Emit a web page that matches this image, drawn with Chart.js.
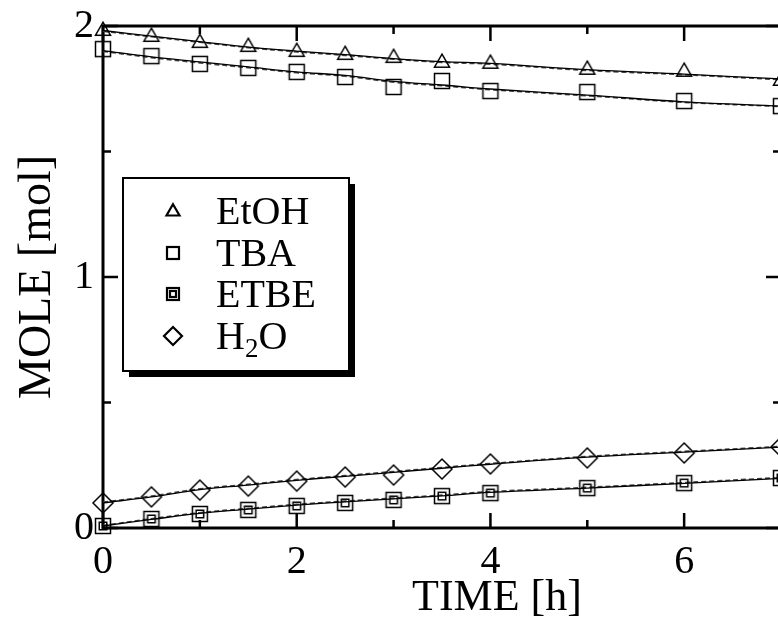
<!DOCTYPE html>
<html>
<head>
<meta charset="utf-8">
<script src="https://cdn.jsdelivr.net/npm/chart.js@4.4.1/dist/chart.umd.min.js"></script>
<style>
  html, body { margin: 0; padding: 0; overflow: hidden; background: #fff; }
  #wrap { width: 810px; height: 622px; }
</style>
</head>
<body>
<div id="wrap"><canvas id="chart" width="810" height="622"></canvas></div>
<script>
/* Moles vs time for the ETBE synthesis run, measured points + two model curves. */

const TIME = [0, 0.5, 1, 1.5, 2, 2.5, 3, 3.5, 4, 5, 6, 7];

// measured points
const ETOH = [1.984, 1.960, 1.936, 1.920, 1.900, 1.888, 1.876, 1.857, 1.853, 1.829, 1.821, 1.785];
const TBA  = [1.908, 1.880, 1.849, 1.833, 1.817, 1.797, 1.757, 1.781, 1.741, 1.737, 1.701, 1.681];
const ETBE = [0.008, 0.036, 0.056, 0.072, 0.088, 0.100, 0.112, 0.127, 0.139, 0.159, 0.179, 0.199];
const H2O  = [0.100, 0.124, 0.151, 0.167, 0.187, 0.203, 0.211, 0.235, 0.255, 0.279, 0.299, 0.323];

// model curves (solid / dashed), read at the same times
const ETOH_SOLID = [1.982, 1.960, 1.938, 1.916, 1.900, 1.886, 1.870, 1.858, 1.851, 1.826, 1.808, 1.789];
const ETOH_DASH  = [1.979, 1.957, 1.935, 1.914, 1.897, 1.883, 1.868, 1.855, 1.848, 1.823, 1.806, 1.786];
const TBA_SOLID  = [1.902, 1.877, 1.857, 1.837, 1.817, 1.803, 1.779, 1.765, 1.749, 1.725, 1.698, 1.681];
const TBA_DASH   = [1.899, 1.874, 1.853, 1.834, 1.814, 1.800, 1.776, 1.762, 1.746, 1.722, 1.696, 1.679];
const ETBE_SOLID = [0.008, 0.034, 0.058, 0.075, 0.091, 0.104, 0.116, 0.128, 0.142, 0.159, 0.178, 0.198];
const ETBE_DASH  = [0.010, 0.037, 0.061, 0.078, 0.094, 0.107, 0.119, 0.131, 0.145, 0.162, 0.181, 0.201];
const H2O_SOLID  = [0.100, 0.124, 0.153, 0.171, 0.190, 0.206, 0.222, 0.238, 0.254, 0.282, 0.302, 0.322];
const H2O_DASH   = [0.103, 0.127, 0.156, 0.174, 0.193, 0.209, 0.225, 0.241, 0.257, 0.285, 0.305, 0.325];

const X_LABELS = [0, 2, 4, 6];
const Y_LABELS = [0, 1, 2];
const X_MINOR = [1, 3, 5, 7];
const Y_MINOR = [0.5, 1.5];

const LEGEND = ["EtOH", "TBA", "ETBE", "H2O"];
const X_TITLE = "TIME [h]";
const Y_TITLE = "MOLE [mol]";

const SERIF = "'Liberation Serif', 'Times New Roman', serif";

function pts(ys) {
  return TIME.map((t, i) => ({ x: t, y: ys[i] }));
}

/* marker drawing, shared by the chart points and the legend */
function drawTriangle(ctx, x, y, w) {
  const h = w * 0.866;
  ctx.beginPath();
  ctx.moveTo(x, y - h * 0.6);
  ctx.lineTo(x + w / 2, y + h * 0.4);
  ctx.lineTo(x - w / 2, y + h * 0.4);
  ctx.closePath();
  ctx.stroke();
}
function drawSquare(ctx, x, y, s) {
  ctx.strokeRect(x - s / 2, y - s / 2, s, s);
}
function drawDouble(ctx, x, y, s) {
  ctx.strokeRect(x - s / 2, y - s / 2, s, s);
  ctx.strokeRect(x - s / 4, y - s / 4, s / 2, s / 2);
}
function drawDiamond(ctx, x, y, w) {
  ctx.beginPath();
  ctx.moveTo(x, y - w / 2);
  ctx.lineTo(x + w / 2, y);
  ctx.lineTo(x, y + w / 2);
  ctx.lineTo(x - w / 2, y);
  ctx.closePath();
  ctx.stroke();
}

function markerCanvas(fn, size, box) {
  const c = document.createElement("canvas");
  c.width = box; c.height = box;
  const ctx = c.getContext("2d");
  ctx.strokeStyle = "#000";
  ctx.lineWidth = 1.5;
  fn(ctx, box / 2, box / 2, size);
  return c;
}

const M_TRI = markerCanvas(drawTriangle, 15, 20);
const M_SQ = markerCanvas(drawSquare, 15, 20);
const M_DBL = markerCanvas(drawDouble, 15, 20);
const M_DIA = markerCanvas(drawDiamond, 20, 24);

function pointSet(label, ys, img) {
  return {
    label, data: pts(ys), showLine: false,
    pointStyle: img, pointRadius: 10, pointHoverRadius: 10,
    clip: false, order: 0,
  };
}
function curveSet(ys, dashed) {
  return {
    label: "", data: pts(ys), showLine: true,
    borderColor: dashed ? "#444" : "#000",
    borderWidth: dashed ? 1.6 : 1.3,
    borderDash: dashed ? [5, 3] : [],
    pointRadius: 0, tension: 0.4, clip: false, order: 1,
  };
}

/* frame with inward ticks on all four sides, plus the axis titles */
const framePlugin = {
  id: "frame",
  beforeDatasetsDraw(chart) {
    const { ctx, chartArea: a, scales } = chart;
    ctx.save();
    ctx.strokeStyle = "#000";
    ctx.lineWidth = 3;
    ctx.strokeRect(a.left, a.top, a.right - a.left, a.bottom - a.top);
    ctx.lineWidth = 2.5;
    const xt = (v, len) => {
      const px = scales.x.getPixelForValue(v);
      ctx.beginPath();
      ctx.moveTo(px, a.bottom); ctx.lineTo(px, a.bottom - len);
      ctx.moveTo(px, a.top); ctx.lineTo(px, a.top + len);
      ctx.stroke();
    };
    const yt = (v, len) => {
      const py = scales.y.getPixelForValue(v);
      ctx.beginPath();
      ctx.moveTo(a.left, py); ctx.lineTo(a.left + len, py);
      ctx.moveTo(a.right, py); ctx.lineTo(a.right - len, py);
      ctx.stroke();
    };
    X_LABELS.forEach((v) => xt(v, 15));
    X_MINOR.forEach((v) => xt(v, 8));
    Y_LABELS.forEach((v) => yt(v, 15));
    Y_MINOR.forEach((v) => yt(v, 8));

    // axis titles (the x title sits right of centre in the original)
    ctx.fillStyle = "#000";
    ctx.textAlign = "center";
    ctx.textBaseline = "middle";
    ctx.font = `44px ${SERIF}`;
    ctx.fillText(X_TITLE, 497, 598);
    ctx.translate(38, (a.top + a.bottom) / 2);
    ctx.rotate(-Math.PI / 2);
    ctx.font = `46px ${SERIF}`;
    ctx.fillText(Y_TITLE, 0, 0);
    ctx.restore();
  },
};

/* boxed legend with a drop shadow, inside the plot */
const legendPlugin = {
  id: "boxLegend",
  afterDatasetsDraw(chart) {
    const ctx = chart.ctx;
    const L = 123, T = 178, W = 226, H = 193;
    ctx.save();
    ctx.fillStyle = "#000";
    ctx.fillRect(L + 6, T + 6, W, H);
    ctx.fillStyle = "#fff";
    ctx.fillRect(L, T, W, H);
    ctx.strokeStyle = "#000";
    ctx.lineWidth = 2;
    ctx.strokeRect(L, T, W, H);

    const markers = [
      (x, y) => drawTriangle(ctx, x, y, 13),
      (x, y) => drawSquare(ctx, x, y, 12),
      (x, y) => drawDouble(ctx, x, y, 12),
      (x, y) => drawDiamond(ctx, x, y, 18),
    ];
    const rows = [211, 253, 294, 336];
    ctx.lineWidth = 2.2;
    ctx.fillStyle = "#000";
    ctx.textBaseline = "alphabetic";
    rows.forEach((y, i) => {
      markers[i](173, y);
      const base = y + 13;
      ctx.font = `40px ${SERIF}`;
      const name = LEGEND[i];
      if (name === "H2O") {
        ctx.fillText("H", 216, base);
        let x = 216 + ctx.measureText("H").width;
        ctx.font = `27px ${SERIF}`;
        ctx.fillText("2", x, base + 8);
        x += ctx.measureText("2").width;
        ctx.font = `40px ${SERIF}`;
        ctx.fillText("O", x, base);
      } else {
        ctx.fillText(name, 216, base);
      }
    });
    ctx.restore();
  },
};

const ctx = document.getElementById("chart");
new Chart(ctx, {
  type: "scatter",
  data: {
    datasets: [
      pointSet("EtOH", ETOH, M_TRI),
      pointSet("TBA", TBA, M_SQ),
      pointSet("ETBE", ETBE, M_DBL),
      pointSet("H2O", H2O, M_DIA),
      curveSet(ETOH_SOLID, false), curveSet(ETOH_DASH, true),
      curveSet(TBA_SOLID, false), curveSet(TBA_DASH, true),
      curveSet(ETBE_SOLID, false), curveSet(ETBE_DASH, true),
      curveSet(H2O_SOLID, false), curveSet(H2O_DASH, true),
    ],
  },
  options: {
    responsive: false,
    animation: false,
    events: [],
    layout: { padding: { top: 26, right: 29, left: 0, bottom: 0 } },
    plugins: { legend: { display: false }, tooltip: { enabled: false } },
    scales: {
      x: {
        type: "linear", min: 0, max: 7,
        grid: { display: false }, border: { display: false },
        ticks: {
          stepSize: 1, autoSkip: false, maxRotation: 0, padding: 2,
          color: "#000", font: { family: SERIF, size: 40 },
          callback: (v) => (X_LABELS.includes(v) ? String(v) : ""),
        },
        afterFit: (s) => { s.height = 94; },
      },
      y: {
        type: "linear", min: 0, max: 2,
        grid: { display: false }, border: { display: false },
        ticks: {
          stepSize: 0.5, autoSkip: false, padding: 1,
          color: "#000", font: { family: SERIF, size: 40 },
          callback: (v) => (Y_LABELS.includes(v) ? String(v) : ""),
        },
        afterFit: (s) => { s.width = 103; },
      },
    },
  },
  plugins: [framePlugin, legendPlugin],
});
</script>
</body>
</html>
